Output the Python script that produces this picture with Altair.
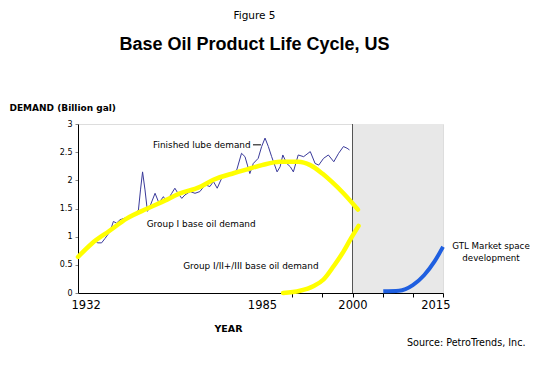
import altair as alt
import pandas as pd

# Finished lube demand (billion gal)
lube_years = [1936.0, 1936.9, 1937.6, 1938.8, 1939.8, 1941.2, 1942.2, 1943.1, 1944.1, 1945.5,
              1947.0, 1948.4, 1949.4, 1950.0, 1950.6, 1951.3, 1952.0, 1952.8, 1954.2, 1955.3,
              1956.6, 1957.5, 1959.0, 1959.9, 1960.9, 1961.9, 1962.8, 1964.3, 1965.7, 1967.1,
              1968.6, 1970.0, 1971.0, 1972.1, 1973.4, 1974.8, 1976.3, 1977.7, 1979.1, 1980.1,
              1980.8, 1981.5, 1982.5, 1983.9, 1984.9, 1985.5, 1986.05, 1986.6, 1987.5, 1988.0,
              1988.45, 1989.1, 1989.7, 1990.2, 1991.0, 1991.9, 1993.0, 1993.8, 1994.4, 1995.2,
              1996.0, 1996.9, 1997.7, 1998.5, 1999.1, 1999.5]
lube_vals = [0.91, 0.94, 0.89, 0.89, 0.97, 1.09, 1.27, 1.24, 1.30, 1.33,
             1.36, 1.41, 1.47, 1.83, 2.15, 1.83, 1.45, 1.55, 1.77, 1.60,
             1.71, 1.62, 1.77, 1.86, 1.76, 1.68, 1.74, 1.80, 1.77, 1.80,
             1.92, 1.89, 1.98, 1.86, 2.04, 2.07, 2.10, 2.18, 2.48, 2.42,
             2.27, 2.12, 2.30, 2.39, 2.60, 2.75, 2.60, 2.42, 2.15, 2.24,
             2.45, 2.30, 2.24, 2.15, 2.45, 2.42, 2.51, 2.30, 2.27, 2.39,
             2.45, 2.33, 2.48, 2.60, 2.57, 2.54]

# Group I base oil demand
g1_years = [1932, 1936, 1941, 1946, 1952, 1957, 1961, 1967, 1971, 1977, 1981, 1985,
            1988, 1991, 1993, 1995, 1996.5, 1998.5, 2000.9]
g1_vals = [0.64, 0.88, 1.10, 1.32, 1.50, 1.64, 1.76, 1.88, 2.01, 2.13, 2.20, 2.27,
           2.33, 2.33, 2.27, 2.12, 1.98, 1.77, 1.48]

# Group I/II+/III base oil demand
g2_years = [1988.5, 1991.3, 1993.5, 1995.2, 1996.9, 1998.3, 1999.7, 2001.0]
g2_vals = [0.0, 0.04, 0.12, 0.24, 0.48, 0.70, 0.96, 1.19]

# GTL market space development
gtl_years = [2005.1, 2007.7, 2010.0, 2011.9, 2013.6, 2015.0]
gtl_vals = [0.03, 0.04, 0.14, 0.32, 0.56, 0.82]

x_domain = [1932, 1985, 2015]
x_ticks = [1932, 1985, 1990, 1995, 2000, 2005, 2010, 2015]
y_ticks = [0, 0.5, 1, 1.5, 2, 2.5, 3]

W, H = 365, 169
FONT = "DejaVu Sans"

lube = pd.DataFrame({"year": lube_years, "v": lube_vals})
g1 = pd.DataFrame({"year": g1_years, "v": g1_vals})
g2 = pd.DataFrame({"year": g2_years, "v": g2_vals})
gtl = pd.DataFrame({"year": gtl_years, "v": gtl_vals})

xscale = alt.Scale(domain=x_domain, range=[0, 184, W], nice=False, zero=False)
yscale = alt.Scale(domain=[0, 3], nice=False)

xaxis = alt.Axis(
    values=x_ticks, format="d", grid=False, title="YEAR",
    labelExpr="(datum.value==1932||datum.value==1985||datum.value==2000||datum.value==2015) ? datum.label : ''",
    tickColor={"condition": {"test": "datum.value==1932||datum.value==1985", "value": "transparent"}, "value": "black"},
    labelOverlap=False, labelFlush=True, labelFlushOffset=7,
    tickSize=4, labelFont=FONT, labelFontSize=11.5, labelColor="black", labelPadding=2,
    domainColor="black", titleFont=FONT, titleFontSize=9.5, titleFontWeight="bold",
    titleX=150, titleY=35, titleAnchor="middle", titleAlign="center", titleBaseline="middle",
    titleColor="black",
)
yaxis = alt.Axis(
    values=y_ticks, format="~g", grid=False, title="DEMAND (Billion gal)",
    tickSize=3, labelFont=FONT, labelFontSize=8, labelColor="black", labelPadding=3,
    domainColor="black", titleFont=FONT, titleFontSize=9, titleFontWeight="bold",
    titleAngle=0, titleX=-69, titleY=-17, titleAlign="left", titleBaseline="middle",
    titleColor="black",
)

X = lambda: alt.X("year:Q", scale=xscale, axis=xaxis)
Y = lambda: alt.Y("v:Q", scale=yscale, axis=yaxis)

shade = alt.Chart(pd.DataFrame({"a": [2000], "b": [2015], "y0": [0], "y1": [3]})).mark_rect(
    color="#e8e8e8").encode(
    x=alt.X("a:Q", scale=xscale, axis=xaxis), x2="b:Q",
    y=alt.Y("y0:Q", scale=yscale, axis=yaxis), y2="y1:Q")

divider = alt.Chart(pd.DataFrame({"a": [2000]})).mark_rule(color="#555555", strokeWidth=1).encode(
    x=alt.X("a:Q", scale=xscale, axis=xaxis))

lube_line = alt.Chart(lube).mark_line(color="#3a3a9a", strokeWidth=1).encode(x=X(), y=Y())
g1_line = alt.Chart(g1).mark_line(color="#ffff00", strokeWidth=4.5, interpolate="monotone",
                                   strokeCap="round").encode(x=X(), y=Y())
g2_line = alt.Chart(g2).mark_line(color="#ffff00", strokeWidth=4.5, interpolate="monotone",
                                   strokeCap="round").encode(x=X(), y=Y())
gtl_line = alt.Chart(gtl).mark_line(color="#1f5fe0", strokeWidth=4, interpolate="monotone").encode(
    x=X(), y=Y())

labels = pd.DataFrame({
    "year": [1953.6, 1951.8, 1962.3],
    "v": [2.63, 1.22, 0.48],
    "t": ["Finished lube demand", "Group I base oil demand", "Group I/II+/III base oil demand"],
})
label_text = alt.Chart(labels).mark_text(align="left", baseline="middle", font=FONT,
                                         fontSize=8.9, color="black").encode(
    x=X(), y=Y(), text="t:N")

leader = alt.Chart(pd.DataFrame({"a": [1982.4], "b": [1984.7], "v": [2.63]})).mark_rule(
    color="black", strokeWidth=1).encode(
    x=alt.X("a:Q", scale=xscale, axis=xaxis), x2="b:Q", y=alt.Y("v:Q", scale=yscale, axis=yaxis))

gtl_label = alt.Chart(pd.DataFrame({"d": [0]})).mark_text(
    text=["GTL Market space", "development"], align="center", baseline="top",
    lineHeight=12, font=FONT, fontSize=8.7, color="black").encode(
    x=alt.value(413), y=alt.value(118))

source = alt.Chart(pd.DataFrame({"d": [0]})).mark_text(
    text="Source: PetroTrends, Inc.", align="left", baseline="middle",
    font=FONT, fontSize=9.6, color="black").encode(
    x=alt.value(329), y=alt.value(219))

chart = alt.layer(
    shade, divider, lube_line, g1_line, g2_line, gtl_line, label_text, leader, gtl_label, source
).properties(
    width=W, height=H,
    title=alt.TitleParams(
        text="Figure 5", subtitle="Base Oil Product Life Cycle, US",
        font=FONT, fontSize=10.5, fontWeight="normal", color="black",
        subtitleFont="Liberation Sans", subtitleFontSize=18, subtitleFontWeight="bold",
        subtitleColor="black", subtitlePadding=15, anchor="middle", offset=49, dx=-6,
    ),
    autosize=alt.AutoSizeParams(type="none"),
    padding={"left": 70, "top": 116, "right": 98, "bottom": 86},
).configure_view(stroke="black", strokeWidth=1).configure(background="white")

chart.save("out.html", embed_options={"renderer": "svg", "actions": False})
